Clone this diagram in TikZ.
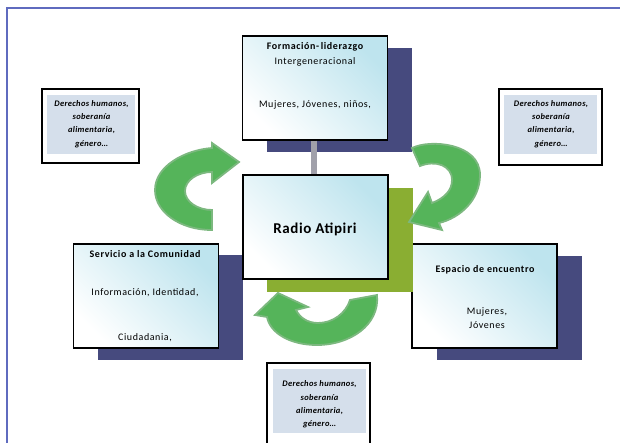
\documentclass[tikz,border=0pt]{standalone}
\usepackage{fontspec}
\setmainfont{Carlito}
\newfontfamily\spacedfont[LetterSpace=6]{Carlito}
\newfontfamily\wideheadfont[LetterSpace=4]{Carlito}
\definecolor{framec}{RGB}{95,107,191}
\definecolor{shadowblue}{RGB}{70,74,126}
\definecolor{shadowgreen}{RGB}{138,174,50}
\definecolor{boxcyan}{RGB}{190,228,238}
\definecolor{notefill}{RGB}{213,223,235}
\definecolor{arrowgreen}{RGB}{85,180,90}
\definecolor{arrowedge}{RGB}{124,184,127}
\definecolor{bargray}{RGB}{160,160,170}
\tikzset{
  mainbox/.style={draw=black, line width=1.3pt, minimum width=145pt, minimum height=104pt,
    inner sep=0pt, top color=boxcyan, bottom color=white, shading angle=-45},
  shadowbox/.style={fill=shadowblue, draw=none, minimum width=145pt, minimum height=104pt, inner sep=0pt},
  greenbox/.style={fill=shadowgreen, draw=none, minimum width=146pt, minimum height=104pt, inner sep=0pt},
  noteouter/.style={draw=black, line width=1.3pt, fill=white, inner sep=0pt},
  noteinner/.style={fill=notefill, draw=none, inner sep=0pt},
  notetext/.style={font=\wideheadfont\fontsize{8.5}{13.2}\selectfont\bfseries\itshape, align=center, inner sep=0pt},
  headtext/.style={font=\spacedfont\fontsize{10}{11}\selectfont\bfseries, inner sep=0pt},
  bodytext/.style={font=\spacedfont\fontsize{10}{14}\selectfont, align=center, inner sep=0pt},
  cyclearrow/.style={fill=arrowgreen, draw=arrowedge, line width=1.8pt, line join=miter},
  linkbar/.style={draw=bargray, line width=6pt}
}
\begin{document}
\begin{tikzpicture}[x=1pt,y=-1pt]
\useasboundingbox (0,0) rectangle (620,443);
\clip (0,0) rectangle (620,443);
% outer frame
\draw[framec, line width=1.6pt] (7,8) rectangle (640,470);
% shadows
\node[shadowbox] (sTop) at (339.5,100) {};
\node[shadowbox] (sLeft) at (170.5,307.5) {};
\node[shadowbox] (sRight) at (509,308) {};
% main boxes
\node[mainbox] (top) at (315,88) {};
\node[mainbox] (left) at (146,296) {};
\node[mainbox] (right) at (484.5,296) {};
% link
\draw[linkbar] (top.south -| 314,0) -- (314,176) coordinate (cTop);
\node[greenbox] (sCenter) at (340,240) {};
\node[mainbox] (center) at (315.5,227) {};
% texts
\node[headtext] (tTop1) at (315,47) {Formación-\,liderazgo};
\node[bodytext] (tTop2) at (315,62) {Intergeneracional};
\node[bodytext] (tTop3) at (315,105) {Mujeres, Jóvenes, niños,};
\node[font=\wideheadfont\fontsize{15}{16}\selectfont\bfseries, inner sep=0pt] (tCenter) at (315,229) {Radio Atipiri};
\node[headtext] (tLeft1) at (145,254) {Servicio a la Comunidad};
\node[bodytext] (tLeft2) at (145,293) {Información, Identidad,};
\node[bodytext] (tLeft3) at (145,338) {Ciudadania,};
\node[headtext] (tRight1) at (485,270) {Espacio de encuentro};
\node[bodytext] (tRight2) at (487,318) {Mujeres,\\Jóvenes};
% note boxes
\draw[noteouter] (42,89) rectangle (139,163);
\fill[notefill] (47,95) rectangle (135,154);
\node[notetext] (nLeft) at (91.5,124) {Derechos humanos,\\soberanía\\alimentaria,\\género…};
\draw[noteouter] (499,89) rectangle (602,165);
\fill[notefill] (504,95) rectangle (597,154);
\node[notetext] (nRight) at (551,124) {Derechos humanos,\\soberanía\\alimentaria,\\género…};
\draw[noteouter] (267,363) rectangle (370,460);
\fill[notefill] (273,369) rectangle (366,433);
\node[notetext] (nBottom) at (319.5,404.5) {Derechos humanos,\\soberanía\\alimentaria,\\género…};
% cycle arrows
\draw[cyclearrow] (212,230) .. controls (180,230) and (155,212) .. (155,190)
  .. controls (155,166) and (185,150) .. (212,148) -- (212,143) -- (239,162) -- (212,183) -- (212,172)
  .. controls (198,172) and (185,180) .. (185,191) .. controls (185,202) and (198,210) .. (212,210) -- cycle;
\draw[cyclearrow] (412,148) .. controls (430,139) and (480,143) .. (480,175)
  .. controls (480,200) and (460,218) .. (439,223) -- (442,230) -- (409,222) -- (428,192) -- (432,203)
  .. controls (445,198) and (452,190) .. (452,180) .. controls (452,165) and (435,160) .. (420,166) -- cycle;
\draw[cyclearrow] (377,295) .. controls (380,325) and (350,345) .. (317,345)
  .. controls (290,345) and (270,333) .. (267,317) -- (255,315) -- (278,293) -- (308,307) -- (296,310)
  .. controls (300,318) and (308,323) .. (318,323) .. controls (333,323) and (346,313) .. (350,300) -- cycle;
\end{tikzpicture}
\end{document}
